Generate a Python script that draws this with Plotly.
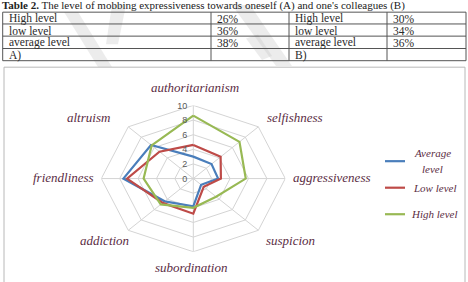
import math
import plotly.graph_objects as go

W, H = 468, 282

# ---------------- data ----------------
categories = ["authoritarianism", "selfishness", "aggressiveness", "suspicion",
              "subordination", "addiction", "friendliness", "altruism"]
series_names = ["Average level", "Low level", "High level"]
average_level = [3.0, 2.8, 2.7, 1.2, 3.8, 4.4, 7.6, 6.5]
low_level = [4.6, 4.2, 3.0, 1.6, 4.8, 4.7, 7.2, 5.2]
high_level = [8.6, 7.1, 5.7, 3.5, 4.0, 5.0, 5.4, 6.4]
ring_ticks = [2, 4, 6, 8, 10]
tick_labels = [0, 2, 4, 6, 8, 10]

table_title = "<b>Table 2.</b> The level of mobbing expressiveness towards oneself (A) and one's colleagues (B)"
table_a_labels = ["High level", "low level", "average level", "A)"]
table_a_values = ["26%", "36%", "38%", ""]
table_b_labels = ["High level", "low level", "average level", "B)"]
table_b_values = ["30%", "34%", "36%", ""]

# ---------------- style ----------------
colors = ["#4a7ebb", "#be4b48", "#98b954"]
label_color = "#5b2d44"
serif = "Liberation Serif"
grid_color = "#d4d4d4"


def px(x):
    return x / W


def py(y):
    return 1 - y / H


n = len(categories)
angles = [2 * math.pi * k / n for k in range(n)]


def to_xy(vals):
    xs = [v * math.sin(a) for v, a in zip(vals, angles)]
    ys = [v * math.cos(a) for v, a in zip(vals, angles)]
    return xs + xs[:1], ys + ys[:1]


fig = go.Figure()

# grid rings
for r in ring_ticks:
    gx, gy = to_xy([r] * n)
    fig.add_trace(go.Scatter(x=gx, y=gy, mode="lines", line=dict(color=grid_color, width=1),
                             hoverinfo="skip", showlegend=False))
# spokes
rmax = max(ring_ticks)
for a in angles:
    fig.add_trace(go.Scatter(x=[0, rmax * math.sin(a)], y=[0, rmax * math.cos(a)], mode="lines",
                             line=dict(color=grid_color, width=1), hoverinfo="skip", showlegend=False))

# data series
for name, vals, c in zip(series_names, [average_level, low_level, high_level], colors):
    sx, sy = to_xy(vals)
    fig.add_trace(go.Scatter(x=sx, y=sy, mode="lines", name=name,
                             line=dict(color=c, width=2.2), showlegend=False))

# ---------------- layout ----------------
cx, cy = 193.3, 176.7
rx, ry = 92.0, 74.5
fig.update_layout(
    width=W, height=H, margin=dict(l=0, r=0, t=0, b=0),
    paper_bgcolor="white", plot_bgcolor="rgba(0,0,0,0)",
    xaxis=dict(domain=[px(cx - rx), px(cx + rx)], range=[-10, 10], visible=False, fixedrange=True),
    yaxis=dict(domain=[py(cy + ry), py(cy - ry)], range=[-10, 10], fixedrange=True,
               anchor="free", position=px(cx), side="left",
               tickvals=tick_labels, ticktext=[str(t) for t in tick_labels],
               showgrid=False, zeroline=False, showline=False, ticks="",
               ticklabelstandoff=6,
               tickfont=dict(family="Liberation Sans", size=9, color="#595959")),
)

shapes = []
annotations = []


def pix_path(pts):
    parts = []
    for k, (x, y) in enumerate(pts):
        parts.append(("M " if k == 0 else "L ") + f"{px(x):.5f},{py(y):.5f}")
    return " ".join(parts) + " Z"


# faint watermark strokes (background decoration of the scanned page)
wm = "rgba(200,200,200,0.35)"
for pts in [[(64, 7), (78, 7), (112, 63), (98, 63)],
            [(112, 0), (126, 0), (118, 40), (106, 40)],
            [(232, 0), (250, 0), (292, 62), (276, 62)],
            [(246, 34), (258, 30), (272, 52), (262, 56)]]:
    shapes.append(dict(type="path", xref="paper", yref="paper", layer="below",
                       path=pix_path(pts), fillcolor=wm, line=dict(width=0)))

# title (at the very top of the page)
annotations.append(dict(x=px(0), y=py(0.5), xref="paper", yref="paper", xanchor="left", yanchor="middle",
                        text=table_title, showarrow=False,
                        font=dict(family=serif, size=11, color="#222")))

# table
row_lines = [7.3, 19.3, 31.7, 44.3, 56.7]
col_lines = [2.7, 211, 289, 387, 466]
for yl in row_lines:
    shapes.append(dict(type="line", xref="paper", yref="paper", x0=px(col_lines[0]), x1=px(col_lines[-1]),
                       y0=py(yl), y1=py(yl), line=dict(color="#555", width=1)))
for xl in col_lines:
    shapes.append(dict(type="line", xref="paper", yref="paper", x0=px(xl), x1=px(xl),
                       y0=py(row_lines[0]), y1=py(row_lines[-1]), line=dict(color="#555", width=1)))
text_x = [7, 215, 293, 391]
for i in range(4):
    ycen = (row_lines[i] + row_lines[i + 1]) / 2 + 0.5
    for j, txt in enumerate([table_a_labels[i], table_a_values[i], table_b_labels[i], table_b_values[i]]):
        if txt:
            annotations.append(dict(x=px(text_x[j]), y=py(ycen), xref="paper", yref="paper",
                                    xanchor="left", yanchor="middle", text=txt, showarrow=False,
                                    font=dict(family=serif, size=11.5, color="#2a2a2a")))

# chart frame
shapes.append(dict(type="rect", xref="paper", yref="paper", x0=px(4), x1=px(465), y0=py(295), y1=py(63.3),
                   line=dict(color="#b8b8b8", width=1)))

# category labels
label_pos = {
    "authoritarianism": (195, 84),
    "selfishness": (295, 115),
    "aggressiveness": (331.7, 176),
    "suspicion": (290, 239.5),
    "subordination": (191, 267.5),
    "addiction": (104, 239.5),
    "friendliness": (63.3, 176),
    "altruism": (88.5, 115),
}
for cat in categories:
    lx, ly = label_pos[cat]
    annotations.append(dict(x=px(lx), y=py(ly), xref="paper", yref="paper", xanchor="center", yanchor="middle",
                            text=cat, showarrow=False,
                            font=dict(family=serif, size=13, color=label_color, style="italic")))

# legend
leg_y = [159, 186, 213]
leg_text = [[("Average", 432, 151), ("level", 432, 167)], [("Low level", 434, 186)], [("High level", 434, 213)]]
for c, yy, items in zip(colors, leg_y, leg_text):
    shapes.append(dict(type="line", xref="paper", yref="paper", x0=px(385), x1=px(405), y0=py(yy), y1=py(yy),
                       line=dict(color=c, width=2.2)))
    for t, tx, ty in items:
        annotations.append(dict(x=px(tx), y=py(ty), xref="paper", yref="paper", xanchor="center",
                                yanchor="middle", text=t, showarrow=False,
                                font=dict(family=serif, size=11, color=label_color, style="italic")))

fig.update_layout(shapes=shapes, annotations=annotations)
fig.write_html("out.html")
